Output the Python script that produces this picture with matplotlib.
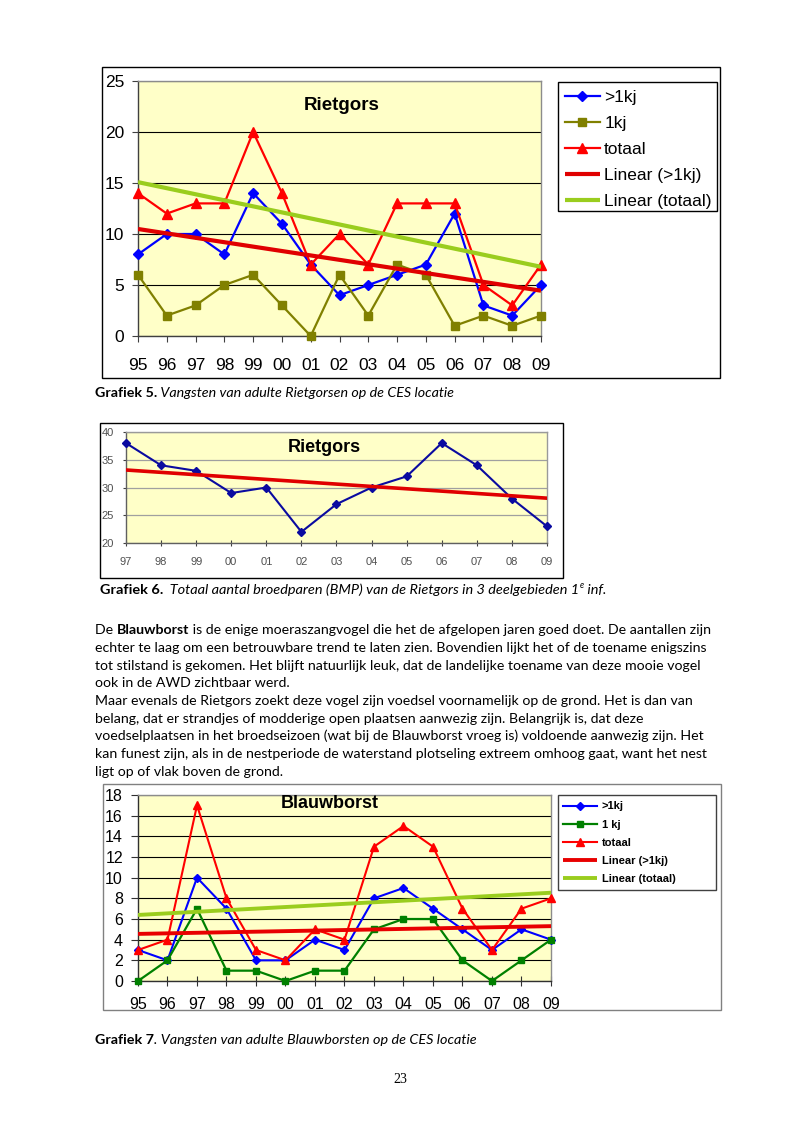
import matplotlib
matplotlib.use('Agg')
import matplotlib.pyplot as plt
import numpy as np
from matplotlib.patches import Rectangle

plt.rcParams['font.family'] = ['Liberation Sans', 'DejaVu Sans']

W, H = 803, 1136

# ---------------- data ----------------
years_a = ['95', '96', '97', '98', '99', '00', '01', '02', '03', '04', '05', '06', '07', '08', '09']
rg_adult = [8, 10, 10, 8, 14, 11, 7, 4, 5, 6, 7, 12, 3, 2, 5]
rg_juv = [6, 2, 3, 5, 6, 3, 0, 6, 2, 7, 6, 1, 2, 1, 2]
rg_total = [14, 12, 13, 13, 20, 14, 7, 10, 7, 13, 13, 13, 5, 3, 7]

years_b = ['97', '98', '99', '00', '01', '02', '03', '04', '05', '06', '07', '08', '09']
rg_bmp = [38, 34, 33, 29, 30, 22, 27, 30, 32, 38, 34, 28, 23]

bb_adult = [3, 2, 10, 7, 2, 2, 4, 3, 8, 9, 7, 5, 3, 5, 4]
bb_juv = [0, 2, 7, 1, 1, 0, 1, 1, 5, 6, 6, 2, 0, 2, 4]
bb_total = [3, 4, 17, 8, 3, 2, 5, 4, 13, 15, 13, 7, 3, 7, 8]

legend_a = ['>1kj', '1kj', 'totaal', 'Linear (>1kj)', 'Linear (totaal)']
legend_c = ['>1kj', '1 kj', 'totaal', 'Linear (>1kj)', 'Linear (totaal)']

paragraph = [
    [('De ', 'n'), ('Blauwborst', 'b'), (' is de enige moeraszangvogel die het de afgelopen jaren goed doet. De aantallen zijn', 'n')],
    [('echter te laag om een betrouwbare trend te laten zien. Bovendien lijkt het of de toename enigszins', 'n')],
    [('tot stilstand is gekomen. Het blijft natuurlijk leuk, dat de landelijke toename van deze mooie vogel', 'n')],
    [('ook in de AWD zichtbaar werd.', 'n')],
    [('Maar evenals de Rietgors zoekt deze vogel zijn voedsel voornamelijk op de grond. Het is dan van', 'n')],
    [('belang, dat er strandjes of modderige open plaatsen aanwezig zijn. Belangrijk is, dat deze', 'n')],
    [('voedselplaatsen in het broedseizoen (wat bij de Blauwborst vroeg is) voldoende aanwezig zijn. Het', 'n')],
    [('kan funest zijn, als in de nestperiode de waterstand plotseling extreem omhoog gaat, want het nest', 'n')],
    [('ligt op of vlak boven de grond.', 'n')],
]

YELLOW = '#FFFFC8'

fig = plt.figure(figsize=(W / 100, H / 100), dpi=100)
renderer = fig.canvas.get_renderer()


def rect(l, t, r, b):
    return [l / W, 1 - b / H, (r - l) / W, (b - t) / H]


def fx(x):
    return x / W


def fy(y):
    return 1 - y / H


def box(l, t, r, b, color, lw=1.0):
    fig.add_artist(Rectangle((l / W, 1 - b / H), (r - l) / W, (b - t) / H,
                             transform=fig.transFigure, fill=False,
                             edgecolor=color, lw=lw))


def style(ax, left='#404040', other='#8C8C8C'):
    ax.set_facecolor(YELLOW)
    ax.spines['left'].set_color(left)
    ax.spines['bottom'].set_color(left)
    ax.spines['top'].set_color(other)
    ax.spines['right'].set_color(other)
    for s in ax.spines.values():
        s.set_linewidth(1.0)
    ax.set_axisbelow(True)


TEXT_FONT = 'Lato'
STYLES = {
    'n': dict(family=TEXT_FONT),
    'b': dict(family=TEXT_FONT, weight='bold'),
    'i': dict(family=TEXT_FONT, style='italic'),
}


def draw_runs(parts, x, y, size, target=None):
    def _draw(sz):
        arts = []
        cx = x
        for s, st in parts:
            kw = dict(STYLES[st.rstrip('^')])
            fs = sz
            yy = y
            if st.endswith('^'):
                fs = sz * 0.6
                yy = y - sz * 0.55
            t = fig.text(fx(cx), fy(yy), s, ha='left', va='baseline', fontsize=fs,
                         color='black', **kw)
            cx += t.get_window_extent(renderer).width
            arts.append(t)
        return arts, cx - x
    arts, w = _draw(size)
    if target is not None:
        for a in arts:
            a.remove()
        arts, w = _draw(size * target / w)
    return arts


# ---------------- Chart 1: Rietgors (CES) ----------------
ax1 = fig.add_axes(rect(138, 81, 541, 336))
style(ax1)
xa = np.arange(len(years_a))
ax1.set_xlim(0, len(years_a) - 1)
ax1.set_ylim(0, 25)
ax1.set_yticks(range(0, 26, 5))
ax1.yaxis.grid(True, color='black', lw=0.8)
h1, = ax1.plot(xa, rg_adult, color='#0000FF', lw=1.6, marker='D', ms=5.5, clip_on=False, zorder=3)
h2, = ax1.plot(xa, rg_juv, color='#808000', lw=1.6, marker='s', ms=6, clip_on=False, zorder=3)
h3, = ax1.plot(xa, rg_total, color='#FF0000', lw=1.6, marker='^', ms=7, clip_on=False, zorder=3)
c_ad = np.polyfit(xa, rg_adult, 1)
c_tot = np.polyfit(xa, rg_total, 1)
h4, = ax1.plot(xa, np.polyval(c_ad, xa), color='#E00000', lw=3.0, zorder=4, solid_capstyle='butt')
h5, = ax1.plot(xa, np.polyval(c_tot, xa), color='#9ACD1E', lw=3.0, zorder=4, solid_capstyle='butt')
ax1.set_xticks(xa, years_a)
ax1.tick_params(axis='x', direction='out', length=4.3, pad=11.5, labelsize=12.5, color='#404040')
ax1.tick_params(axis='y', direction='out', length=4.3, pad=5.5, labelsize=12.5, color='#404040')
fig.text(fx(342), fy(106), 'Rietgors', ha='center', va='center', fontsize=13.5, weight='bold')
ax1.legend([h1, h2, h3, h4, h5], legend_a, loc='upper left',
           bbox_to_anchor=(fx(559), fy(84)), bbox_transform=fig.transFigure,
           frameon=False, fontsize=12.5, handlelength=2.0, handletextpad=0.25,
           borderpad=0.35, labelspacing=0.62, borderaxespad=0)
box(558, 82, 717, 211, 'black')
box(102, 67, 720, 378, 'black')

draw_runs([('Grafiek 5.', 'b'), (' Vangsten van adulte Rietgorsen op de CES locatie', 'i')],
          95, 397, 9.0, target=360)

# ---------------- Chart 2: Rietgors (BMP) ----------------
ax2 = fig.add_axes(rect(126, 432, 547, 543))
style(ax2, left='#606060', other='#9A9A9A')
xb = np.arange(len(years_b))
ax2.set_xlim(0, len(years_b) - 1)
ax2.set_ylim(20, 40)
ax2.set_yticks(range(20, 41, 5))
ax2.yaxis.grid(True, color='#A0A0A0', lw=0.9)
ax2.plot(xb, rg_bmp, color='#0A0AA0', lw=1.5, marker='D', ms=4.5, clip_on=False, zorder=3)
c_bmp = np.polyfit(xb, rg_bmp, 1)
ax2.plot(xb, np.polyval(c_bmp, xb), color='#E00000', lw=2.6, zorder=4)
ax2.set_xticks(xb, years_b)
ax2.tick_params(axis='x', direction='inout', length=4, pad=8, labelsize=8,
                labelcolor='#505050', color='#404040')
ax2.tick_params(axis='y', direction='out', length=2.5, pad=6, labelsize=8,
                labelcolor='#505050', color='#404040')
fig.text(fx(324), fy(447), 'Rietgors', ha='center', va='center', fontsize=13, weight='bold')
box(100, 423, 563, 578, 'black')

draw_runs([('Grafiek 6.', 'b'), ('  Totaal aantal broedparen (BMP) van de Rietgors in 3 deelgebieden 1', 'i'),
           ('e', 'i^'), (' inf.', 'i')],
          100, 594, 10.0, target=507)

# ---------------- paragraph ----------------
probe = draw_runs(paragraph[7], 95, 800, 10.0)
pw = sum(a.get_window_extent(renderer).width for a in probe)
for a in probe:
    a.remove()
psize = 10.0 * 610 / pw
for i, line in enumerate(paragraph):
    draw_runs(line, 95, 634 + i * 17.75, psize)

# ---------------- Chart 3: Blauwborst ----------------
ax3 = fig.add_axes(rect(138, 795, 551, 981))
style(ax3, left='#303030', other='#8C8C8C')
ax3.set_xlim(0, len(years_a) - 1)
ax3.set_ylim(0, 18)
ax3.set_yticks(range(0, 19, 2))
ax3.yaxis.grid(True, color='black', lw=0.8)
g1, = ax3.plot(xa, bb_adult, color='#0000FF', lw=1.5, marker='D', ms=4.5, clip_on=False, zorder=3)
g2, = ax3.plot(xa, bb_juv, color='#008000', lw=1.6, marker='s', ms=5, clip_on=False, zorder=3)
g3, = ax3.plot(xa, bb_total, color='#FF0000', lw=1.5, marker='^', ms=6, clip_on=False, zorder=3)
cb_ad = np.polyfit(xa, bb_adult, 1)
cb_tot = np.polyfit(xa, bb_total, 1)
g4, = ax3.plot(xa, np.polyval(cb_ad, xa), color='#E80000', lw=2.8, zorder=4, solid_capstyle='butt')
g5, = ax3.plot(xa, np.polyval(cb_tot, xa), color='#9ACD1E', lw=2.8, zorder=4, solid_capstyle='butt')
ax3.set_xticks(xa, years_a)
ax3.tick_params(axis='x', direction='inout', length=7, pad=8, labelsize=11.5, color='#303030')
ax3.tick_params(axis='y', direction='out', length=4.8, pad=6, labelsize=11.5, color='#303030')
fig.text(fx(330), fy(803), 'Blauwborst', ha='center', va='center', fontsize=13, weight='bold')
ax3.legend([g1, g2, g3, g4, g5], legend_c, loc='upper left',
           bbox_to_anchor=(fx(559), fy(797)), bbox_transform=fig.transFigure,
           frameon=False, prop=dict(size=8, weight='bold'), handlelength=3.0,
           handletextpad=0.45, borderpad=0.4, labelspacing=0.73, borderaxespad=0)
box(558, 795, 716, 890, '#404040')
box(103, 784, 721, 1010, '#808080')

draw_runs([('Grafiek 7', 'b'), ('. Vangsten van adulte Blauwborsten op de CES locatie', 'i')],
          95, 1044, 9.0, target=380)

fig.text(fx(400), fy(1083), '23', ha='center', va='baseline', fontsize=10,
         family=['Liberation Serif', 'DejaVu Serif'])

fig.savefig('out.png', dpi=100)
